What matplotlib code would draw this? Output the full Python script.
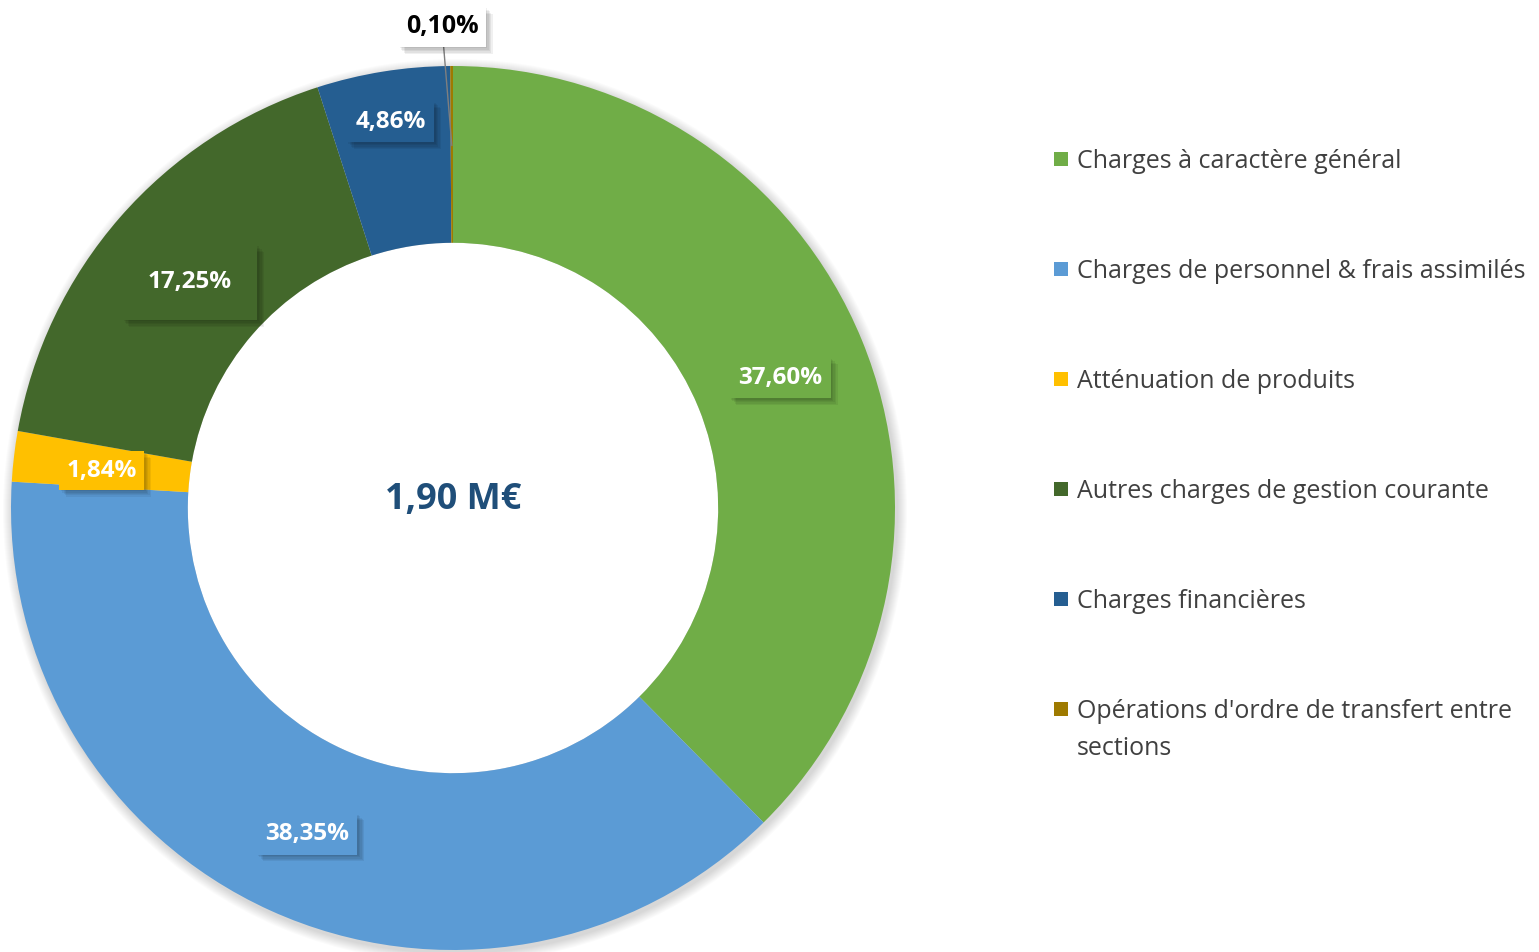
import numpy as np
import matplotlib
matplotlib.use("Agg")
import matplotlib.pyplot as plt
import matplotlib.patheffects as pe
from matplotlib.patches import Circle

plt.rcParams['font.family'] = ['Open Sans', 'DejaVu Sans']

# data
categories = ["Charges à caractère général",
              "Charges de personnel & frais assimilés",
              "Atténuation de produits",
              "Autres charges de gestion courante",
              "Charges financières",
              "Opérations d'ordre de transfert entre\nsections"]
shares = [37.60, 38.35, 1.84, 17.25, 4.86, 0.10]
labels = ["37,60%", "38,35%", "1,84%", "17,25%", "4,86%", "0,10%"]
colors = ["#70AD47", "#5B9BD5", "#FFC000", "#43682B", "#255E91", "#9E7A00"]
total_label = "1,90 M€"

W, H = 1539, 952
fig = plt.figure(figsize=(W / 100, H / 100), dpi=100)
ax = fig.add_axes([0, 0, 1, 1])

cx, cy = 453, H - 508
R = 442
ring = 0.4

# soft shadow round the ring
for k in range(10):
    ax.add_patch(Circle((cx + 2, cy - 3), R + 10 - k, color="black",
                        alpha=0.016, lw=0, zorder=0))
ax.add_patch(Circle((cx, cy), R * (1 - ring), color="white", lw=0, zorder=0.5))

wedges, _ = ax.pie(shares, colors=colors, startangle=90, counterclock=False,
                   radius=R, center=(cx, cy),
                   wedgeprops=dict(width=R * ring, edgecolor="none"))
ax.set_xlim(0, W)
ax.set_ylim(0, H)
ax.set_aspect("auto")
ax.axis("off")

# blurred-ish drop shadow for the label boxes
shadow = [pe.SimplePatchShadow(offset=(d, -d), shadow_rgbFace="black", alpha=0.06)
          for d in (1, 2, 3, 4, 5)] + [pe.Normal()]

# label radius (fraction of R) and box padding per slice
lab_r = [0.8, 0.8, 0.8, 0.79, 0.894]
lab_pad = [0.35, 0.35, 0.3, 1.05, 0.35]

for i, w in enumerate(wedges[:5]):
    ang = np.deg2rad((w.theta1 + w.theta2) / 2)
    x = cx + lab_r[i] * R * np.cos(ang)
    y = cy + lab_r[i] * R * np.sin(ang) - 4
    t = ax.text(x, y, labels[i], ha="center", va="center", fontsize=17.5,
                fontweight="bold", color="white", zorder=5,
                bbox=dict(boxstyle="square,pad=%s" % lab_pad[i],
                          fc=colors[i], ec="none"))
    t.get_bbox_patch().set_path_effects(shadow)

# tiny slice: label outside with leader line
w = wedges[5]
ang = np.deg2rad((w.theta1 + w.theta2) / 2)
px = cx + 0.82 * R * np.cos(ang)
py = cy + 0.82 * R * np.sin(ang)
t = ax.annotate(labels[5], xy=(px, py), xytext=(442, H - 27),
                ha="center", va="center", fontsize=18, fontweight="bold",
                color="black", zorder=6,
                bbox=dict(boxstyle="square,pad=0.3", fc="white", ec="none"),
                arrowprops=dict(arrowstyle="-", color="#7F7F7F", lw=1,
                                shrinkA=0, shrinkB=0))
t.get_bbox_patch().set_path_effects(shadow)

ax.text(cx, H - 500, total_label, ha="center", va="center", fontsize=26,
        fontweight="bold", color="#1F4E79", zorder=5)

# legend
for i, name in enumerate(categories):
    ly = H - (159 + 110 * i)
    ax.scatter([1061], [ly], marker="s", s=105, color=colors[i], lw=0, zorder=5)
    for j, line in enumerate(name.split("\n")):
        ax.text(1077, ly - 9 - 37 * j, line, ha="left", va="baseline",
                fontsize=18, color="#404040")

fig.savefig("out.png", dpi=100)
